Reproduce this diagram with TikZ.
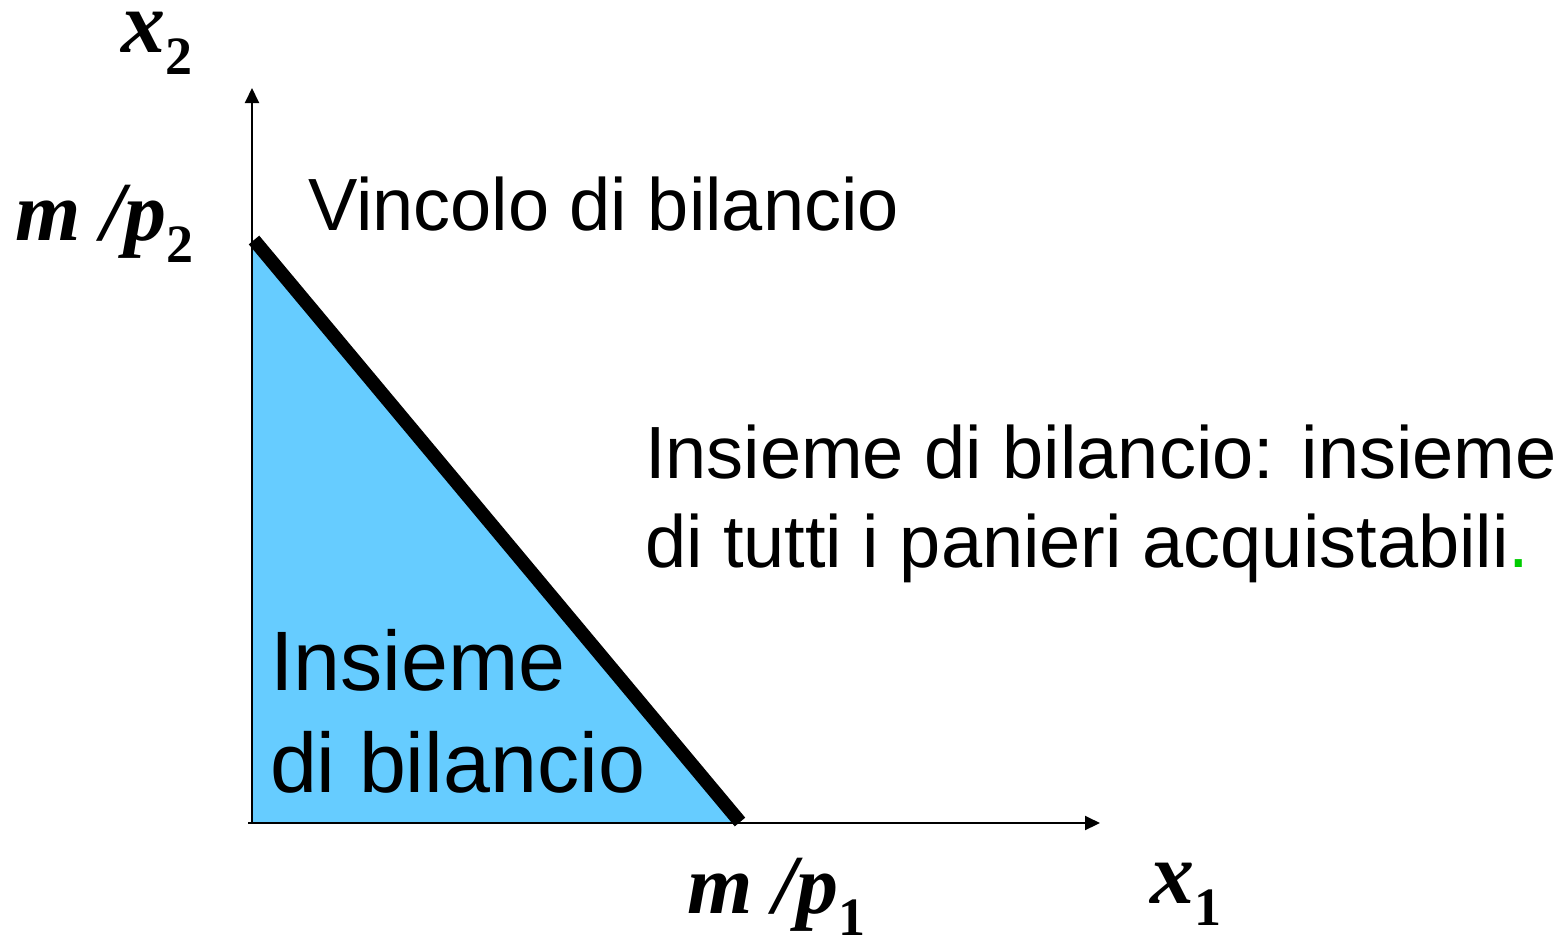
\documentclass[tikz,border=0pt]{standalone}
\usepackage{fontspec}
\setmainfont{Liberation Serif}
\newfontfamily\sansf{Liberation Sans}
\usetikzlibrary{arrows.meta}
\definecolor{setblue}{HTML}{66CCFF}
\definecolor{dotgreen}{HTML}{00CC00}
\newcommand{\axlbl}[3][42]{{\fontsize{#1}{48}\selectfont\bfseries\itshape #2}\raisebox{-11pt}{\fontsize{27}{30}\selectfont\bfseries #3}}
\tikzset{
  axis/.style={line width=1pt,-{Triangle[length=7.5pt,width=7pt]}},
  budget/.style={line width=6.8pt,line cap=butt},
  mathlbl/.style={anchor=base west,inner sep=0pt,outer sep=0pt},
  txt/.style={anchor=base west,inner sep=0pt,outer sep=0pt,font=\sansf\fontsize{37}{44}\selectfont},
  bigtxt/.style={anchor=base west,inner sep=0pt,outer sep=0pt,font=\sansf\fontsize{42.2}{51}\selectfont},
}
\begin{document}
\begin{tikzpicture}[x=0.5pt,y=-0.5pt]
\useasboundingbox (0,0) rectangle (1563,939);
\coordinate (O) at (252,823);
\coordinate (Ytip) at (252,88);
\coordinate (Xstart) at (248,823);
\coordinate (Xtip) at (1100,823);
\coordinate (A) at (254,240);
\coordinate (B) at (740,822);
\fill[setblue] (252,240) -- (O) -- (B) -- cycle;
\draw[axis] (O) -- (Ytip);
\draw[axis] (Xstart) -- (Xtip);
\draw[budget] (A) -- (B);
\node[mathlbl] (x2) at (121,52) {\axlbl[44]{x}{2}};
\node[mathlbl] (mp2) at (15,240) {\axlbl{m /p}{2}};
\node[mathlbl] (mp1) at (687,913) {\axlbl{m /p}{1}};
\node[mathlbl] (x1) at (1150,903) {\axlbl[44]{x}{1}};
\node[txt] (vinc) at (308,230) {Vincolo di bilancio};
\node[txt] (ins1) at (645,478) {Insieme di bilancio: insieme};
\node[txt] (ins2) at (645,567) {di tutti i panieri acquistabili\textcolor{dotgreen}{.}};
\node[bigtxt] (t1) at (270,690) {Insieme};
\node[bigtxt] (t2) at (270,792) {di bilancio};
\end{tikzpicture}
\end{document}
